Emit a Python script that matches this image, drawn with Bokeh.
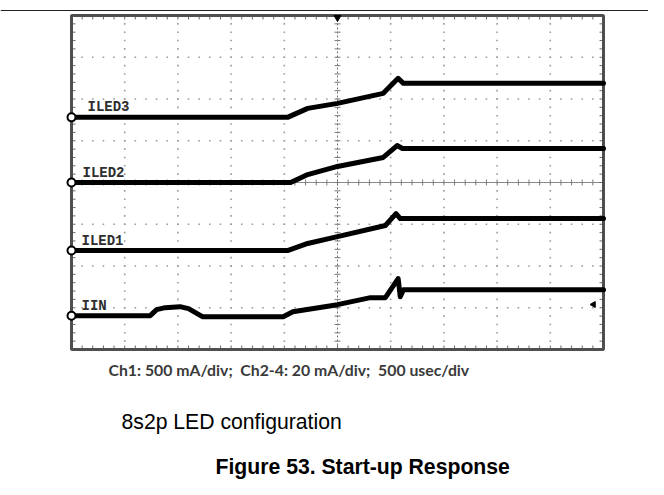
import numpy as np
from bokeh.plotting import figure
from bokeh.models import Range1d, Span
from bokeh.core.properties import value
from bokeh.embed import file_html
from bokeh.resources import INLINE

# ---------------- data (time in ms, current in mA) ----------------
channels = ["ILED3", "ILED2", "ILED1", "IIN"]
scales_mA_per_div = [20, 20, 20, 500]
ground_div = [1.56, 0.0, -1.63, -3.19]

t_iled3 = [0.0, 2.03, 2.22, 2.50, 2.93, 3.07, 3.12, 5.0]
i_iled3 = [0.0, 0.0, 4.3, 6.7, 11.5, 18.7, 16.3, 16.3]
t_iled2 = [0.0, 2.06, 2.22, 2.50, 2.93, 3.06, 3.11, 5.0]
i_iled2 = [0.0, 0.0, 3.8, 7.7, 12.0, 17.7, 16.3, 16.3]
t_iled1 = [0.0, 2.03, 2.22, 2.50, 2.95, 3.05, 3.09, 5.0]
i_iled1 = [0.0, 0.0, 3.4, 6.7, 12.0, 17.7, 15.3, 15.3]
t_iin = [0.0, 0.74, 0.80, 0.88, 1.02, 1.10, 1.23, 1.99, 2.08, 2.50, 2.81, 2.95, 3.07, 3.09, 3.12, 5.0]
i_iin = [0, 0, 72, 96, 108, 84, -12, -12, 48, 132, 216, 216, 443, 228, 311, 311]

times = [t_iled3, t_iled2, t_iled1, t_iin]
currents = [i_iled3, i_iled2, i_iled1, i_iin]

caption_scope = "Ch1: 500 mA/div;\u00a0 Ch2-4: 20 mA/div;\u00a0 500 usec/div"
caption_config = "8s2p LED configuration"
caption_figure = "Figure 53. Start-up Response"

# ---------------- layout helpers (canvas pixels -> data) ----------------
PX_PER_MS = 106.4
PX_PER_DIV = 41.75
X0 = 71.0     # t = 0
YC = 182.0    # div = 0
W, H = 648, 479


def tx(xp):
    return (xp - X0) / PX_PER_MS


def dy(yp):
    return (YC - yp) / PX_PER_DIV


p = figure(width=W, height=H, output_backend="svg", toolbar_location=None,
           x_range=Range1d(tx(0), tx(W)), y_range=Range1d(dy(H), dy(0)),
           min_border=0, min_border_left=0, min_border_right=0,
           min_border_top=0, min_border_bottom=0)
p.axis.visible = False
p.grid.visible = False
p.outline_line_color = None
p.background_fill_color = "white"
p.border_fill_color = "white"

# top rule of the page
p.add_layout(Span(location=dy(10), dimension="width", line_color="#222222", line_width=1))

# ---------------- graticule ----------------
t_minor = np.round(np.arange(0, 5.0001, 0.1), 4)
d_minor = np.round(np.arange(-4, 4.0001, 0.2), 4)
t_major = np.arange(0.5, 4.9, 0.5)
d_major = np.arange(-3, 3.5, 1.0)

# dotted grid
gx, gy = [], []
for tm in t_major:
    if abs(tm - 2.5) < 1e-6:
        continue
    gx += [tm] * len(d_minor)
    gy += list(d_minor)
for dm in d_major:
    if abs(dm) < 1e-6:
        continue
    gx += list(t_minor)
    gy += [dm] * len(t_minor)
p.scatter(gx, gy, marker="square", size=1.6, color="#9a9a9a", line_color=None)

# centre lines
p.line([0, 5], [0, 0], line_color="#8a8a8a", line_width=1)
p.line([2.5, 2.5], [-4, 4], line_color="#707070", line_width=1, line_dash="2 2")

tick_t = 4 / PX_PER_DIV
tick_d = 4 / PX_PER_MS
ctr_t = 3 / PX_PER_DIV
ctr_d = 3 / PX_PER_MS
# border ticks
p.segment(x0=t_minor, y0=[4] * len(t_minor), x1=t_minor, y1=[4 - tick_t] * len(t_minor),
          line_color="#6a6a6a", line_width=1)
p.segment(x0=t_minor, y0=[-4] * len(t_minor), x1=t_minor, y1=[-4 + tick_t] * len(t_minor),
          line_color="#6a6a6a", line_width=1)
p.segment(x0=[0] * len(d_minor), y0=d_minor, x1=[tick_d] * len(d_minor), y1=d_minor,
          line_color="#6a6a6a", line_width=1)
p.segment(x0=[5] * len(d_minor), y0=d_minor, x1=[5 - tick_d] * len(d_minor), y1=d_minor,
          line_color="#6a6a6a", line_width=1)
# centre ticks
p.segment(x0=t_minor, y0=[-ctr_t] * len(t_minor), x1=t_minor, y1=[ctr_t] * len(t_minor),
          line_color="#7a7a7a", line_width=1)
p.segment(x0=[2.5 - ctr_d] * len(d_minor), y0=d_minor, x1=[2.5 + ctr_d] * len(d_minor), y1=d_minor,
          line_color="#7a7a7a", line_width=1)

# screen border
p.quad(left=[0], right=[5], bottom=[-4], top=[4], fill_color=None,
       line_color="#4f4f4f", line_width=3)

# ---------------- traces ----------------
for name, tt, ii, sc, g in zip(channels, times, currents, scales_mA_per_div, ground_div):
    yy = [g + v / sc for v in ii]
    p.line(tt, yy, line_color="black", line_width=5, line_join="round", line_cap="round")

# ground markers
p.scatter([0] * 4, ground_div, marker="circle", size=8, fill_color="white",
          line_color="black", line_width=2)

# trigger markers
p.scatter([2.5], [4 - 2 / PX_PER_DIV], marker="inverted_triangle", size=7, color="black")
p.scatter([tx(593)], [dy(304)], marker="triangle", angle=np.pi / 2, size=6, color="black")

# channel labels
lab_x = [tx(87), tx(82), tx(81), tx(81)]
lab_y = [g + 2 / PX_PER_DIV for g in ground_div]
p.text(lab_x, lab_y, text=channels, text_font=value("Liberation Mono"), text_font_style="bold",
       text_font_size="14px", text_color="#2e2e2e", text_baseline="bottom", text_align="left")

# captions
p.text([tx(108)], [dy(369)], text=[caption_scope], text_font=value("Lato"),
       text_font_style="bold", text_font_size="15.8px", text_color="#3a3a3a",
       text_baseline="alphabetic", text_align="left")
p.text([tx(121)], [dy(421)], text=[caption_config], text_font=value("Liberation Sans"),
       text_font_size="21.2px", text_color="black", text_baseline="alphabetic", text_align="left")
p.text([tx(215)], [dy(466)], text=[caption_figure], text_font=value("Liberation Sans"),
       text_font_style="bold", text_font_size="21.2px", text_color="black",
       text_baseline="alphabetic", text_align="left")

open("out.html", "w").write(file_html(p, INLINE))
